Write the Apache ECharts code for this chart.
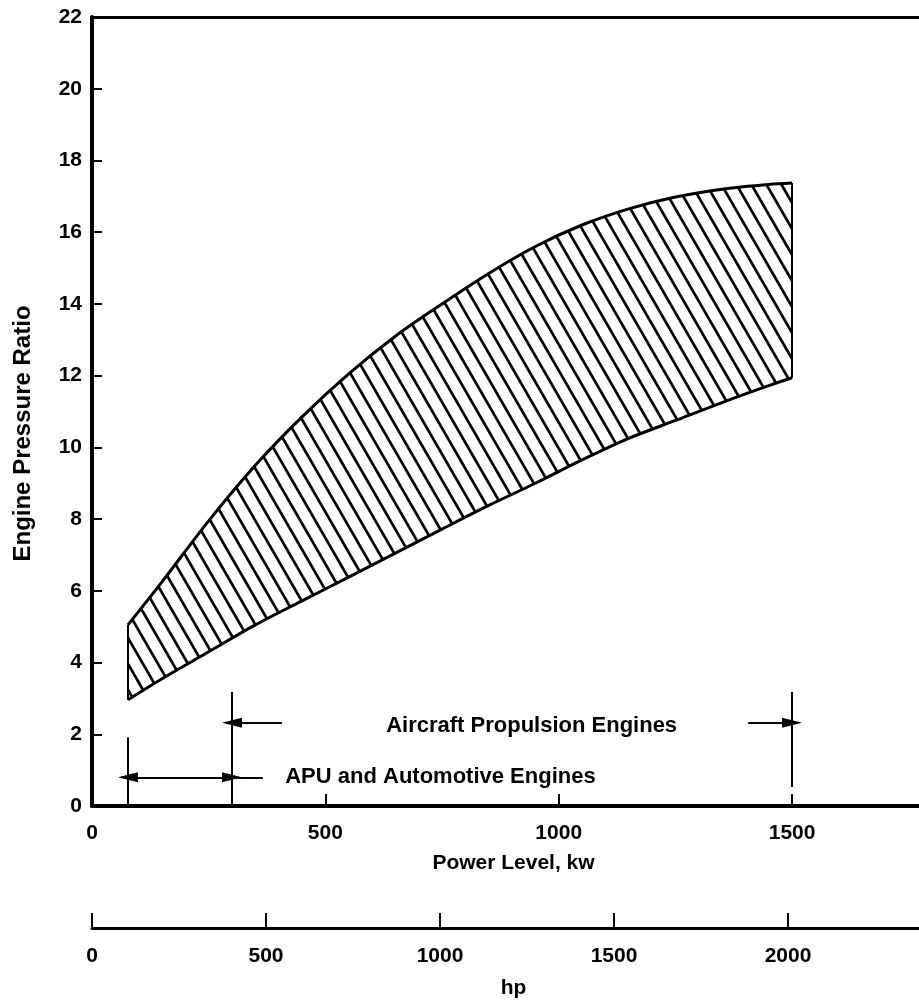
<!DOCTYPE html>
<html>
<head>
<meta charset="utf-8">
<script src="https://cdn.jsdelivr.net/npm/echarts@6/dist/echarts.min.js"></script>
<style>
  html, body { margin: 0; padding: 0; background: #fff; }
  #chart { width: 919px; height: 1003px; }
</style>
</head>
<body>
<div id="chart"></div>
<script>
// power level, kw, and the band edges (engine pressure ratio)
const powerKw = [77, 150, 250, 350, 450, 550, 650, 750, 850, 950, 1050, 1150, 1250, 1350, 1450, 1500];
const ratioUpper = [5.05, 6.25, 7.95, 9.5, 10.85, 12.05, 13.1, 14.0, 14.85, 15.6, 16.2, 16.65, 16.98, 17.2, 17.33, 17.37];
const ratioLower = [2.96, 3.55, 4.3, 5.05, 5.72, 6.38, 7.05, 7.72, 8.38, 9.0, 9.65, 10.25, 10.75, 11.25, 11.72, 11.94];

// range annotations (kw)
const apuRange = [77, 300];
const aircraftRange = [300, 1500];
const apuLabel = 'APU and Automotive Engines';
const aircraftLabel = 'Aircraft Propulsion Engines';

const kwMax = 1772;
const kwPerHp = 0.7457;

const font = "'Liberation Sans', Arial, sans-serif";
const black = '#000';

// hatch tile: "\" stripes, repeats every 15px across
function hatchTile() {
  const w = 15, h = 26;
  const c = document.createElement('canvas');
  c.width = w; c.height = h;
  const ctx = c.getContext('2d');
  ctx.fillStyle = '#fff';
  ctx.fillRect(0, 0, w, h);
  ctx.strokeStyle = black;
  ctx.lineWidth = 2.7;
  for (let k = -1; k <= 1; k++) {
    ctx.beginPath();
    ctx.moveTo(k * w - w, -h);
    ctx.lineTo(k * w + 2 * w, 2 * h);
    ctx.stroke();
  }
  return c;
}

const chart = echarts.init(document.getElementById('chart'));

const solid = { type: 'solid', color: black, width: 2 };
const seg = (x1, y1, x2, y2, s1, s2) => [
  { coord: [x1, y1], symbol: s1 || 'none', symbolSize: [10, 20] },
  { coord: [x2, y2], symbol: s2 || 'none', symbolSize: [10, 20] }
];

const last = powerKw.length - 1;
const plain = v => String(v);

const option = {
  backgroundColor: '#fff',
  animation: false,
  grid: { left: 92, top: 17, right: 0, bottom: 197, outerBoundsMode: 'none', containLabel: false },
  xAxis: [
    {
      type: 'value', min: 0, max: kwMax, interval: 500,
      name: 'Power Level, kw', nameLocation: 'middle', nameGap: 47,
      nameTextStyle: { fontFamily: font, fontWeight: 'bold', fontSize: 21, color: black, padding: [0, 0, 0, 16] },
      axisLine: { lineStyle: { color: black, width: 4 } },
      axisTick: { inside: true, length: 12, lineStyle: { color: black, width: 2 } },
      axisLabel: { margin: 17, showMaxLabel: false, formatter: plain, fontFamily: font, fontWeight: 'bold', fontSize: 21, color: black },
      splitLine: { show: false }
    },
    {
      type: 'value', min: 0, max: kwMax / kwPerHp, interval: 500, position: 'bottom', offset: 122,
      name: 'hp', nameLocation: 'middle', nameGap: 50,
      nameTextStyle: { fontFamily: font, fontWeight: 'bold', fontSize: 21, color: black, padding: [0, 0, 0, 16] },
      axisLine: { lineStyle: { color: black, width: 3 } },
      axisTick: { inside: true, length: 15, lineStyle: { color: black, width: 2 } },
      axisLabel: { margin: 18, showMaxLabel: false, formatter: plain, fontFamily: font, fontWeight: 'bold', fontSize: 21, color: black },
      splitLine: { show: false }
    },
    {
      type: 'value', min: 0, max: kwMax, position: 'top',
      axisLine: { lineStyle: { color: black, width: 3 } },
      axisTick: { show: false }, axisLabel: { show: false }, splitLine: { show: false }
    }
  ],
  yAxis: {
    type: 'value', min: 0, max: 22, interval: 2,
    name: 'Engine Pressure Ratio', nameLocation: 'middle', nameGap: 57, nameRotate: 90,
    nameMoveOverlap: false,
    nameTextStyle: { fontFamily: font, fontWeight: 'bold', fontSize: 24, color: black, padding: [0, 44, 0, 0] },
    axisLine: { lineStyle: { color: black, width: 4 } },
    axisTick: { inside: true, length: 10, lineStyle: { color: black, width: 2 } },
    axisLabel: { margin: 10, fontFamily: font, fontWeight: 'bold', fontSize: 21, color: black },
    splitLine: { show: false }
  },
  series: [
    {
      // ratio first so the stack runs on the y dimension
      name: 'lower', type: 'line', stack: 'band', smooth: 0.3, symbol: 'none', z: 4,
      encode: { x: 1, y: 0 },
      data: powerKw.map((x, i) => [ratioLower[i], x]),
      lineStyle: { color: black, width: 3 },
      markLine: {
        silent: true, animation: false, label: { show: false },
        lineStyle: solid,
        data: [
          // band end edges
          seg(powerKw[0], ratioLower[0], powerKw[0], ratioUpper[0]),
          seg(powerKw[last], ratioLower[last], powerKw[last], ratioUpper[last]),
          // range markers
          seg(apuRange[0], 0, apuRange[0], 1.92),
          seg(apuRange[1], 0, apuRange[1], 3.18),
          seg(aircraftRange[1], 0.53, aircraftRange[1], 3.18),
          seg(apuRange[0], 0.8, apuRange[1], 0.8, 'triangle', 'triangle'),
          seg(apuRange[1], 0.8, 366, 0.8),
          seg(407, 2.32, aircraftRange[0], 2.32, 'none', 'triangle'),
          seg(1406, 2.32, aircraftRange[1], 2.32, 'none', 'triangle')
        ]
      },
      markPoint: {
        silent: true, symbol: 'circle', symbolSize: 0,
        label: { show: true, position: 'inside', fontFamily: font, fontWeight: 'bold', fontSize: 22, color: black },
        data: [
          { coord: [942, 2.22], label: { formatter: aircraftLabel, align: 'center' } },
          { coord: [414, 0.8], label: { formatter: apuLabel, align: 'left' } }
        ]
      }
    },
    {
      name: 'upper', type: 'line', stack: 'band', smooth: 0.3, symbol: 'none', z: 3,
      encode: { x: 1, y: 0 },
      data: powerKw.map((x, i) => [ratioUpper[i] - ratioLower[i], x]),
      lineStyle: { color: black, width: 3 },
      areaStyle: { color: { image: hatchTile(), repeat: 'repeat' }, opacity: 1 }
    }
  ]
};

chart.setOption(option);
</script>
</body>
</html>
